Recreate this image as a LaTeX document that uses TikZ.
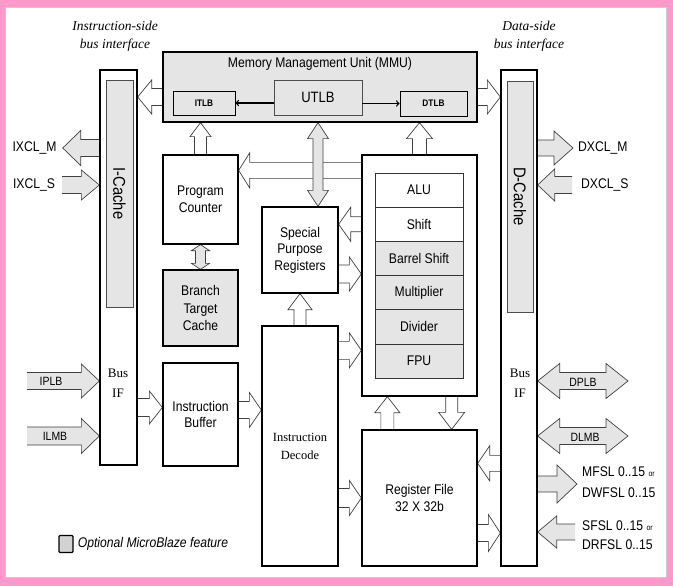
\documentclass[tikz,border=0pt]{standalone}
\usepackage{fontspec}
\setmainfont[FakeStretch=0.87]{Liberation Sans}
\newfontfamily\timesfont{Liberation Serif}
\usetikzlibrary{calc,positioning}
\definecolor{framepink}{RGB}{255,153,204}
\pgfdeclarelayer{frame}
\pgfdeclarelayer{arrows}
\pgfsetlayers{frame,arrows,main}
% block arrows: [style]{tail}{tip}{half shaft}{half head}{head length}
\newcommand{\harr}[6][]{\draw[#1] let \p1=#2, \p2=#3, \n1={sign(\x2-\x1)*#6} in
	(\x1,{\y1+#4}) -- ({\x2-(\n1)},{\y1+#4}) -- ({\x2-(\n1)},{\y1+#5}) -- (\x2,\y1)
	-- ({\x2-(\n1)},{\y1-#5}) -- ({\x2-(\n1)},{\y1-#4}) -- (\x1,{\y1-#4});}
\newcommand{\varr}[6][]{\draw[#1] let \p1=#2, \p2=#3, \n1={sign(\y2-\y1)*#6} in
	({\x1+#4},\y1) -- ({\x1+#4},{\y2-(\n1)}) -- ({\x1+#5},{\y2-(\n1)}) -- (\x1,\y2)
	-- ({\x1-#5},{\y2-(\n1)}) -- ({\x1-#4},{\y2-(\n1)}) -- ({\x1-#4},\y1);}
\newcommand{\hdarr}[6][]{\draw[#1] let \p1=#2, \p2=#3, \n1={sign(\x2-\x1)*#6} in
	(\x1,\y1) -- ({\x1+(\n1)},{\y1+#5}) -- ({\x1+(\n1)},{\y1+#4}) -- ({\x2-(\n1)},{\y1+#4})
	-- ({\x2-(\n1)},{\y1+#5}) -- (\x2,\y1) -- ({\x2-(\n1)},{\y1-#5}) -- ({\x2-(\n1)},{\y1-#4})
	-- ({\x1+(\n1)},{\y1-#4}) -- ({\x1+(\n1)},{\y1-#5}) -- cycle;}
\newcommand{\vdarr}[6][]{\draw[#1] let \p1=#2, \p2=#3, \n1={sign(\y2-\y1)*#6} in
	(\x1,\y1) -- ({\x1+#5},{\y1+(\n1)}) -- ({\x1+#4},{\y1+(\n1)}) -- ({\x1+#4},{\y2-(\n1)})
	-- ({\x1+#5},{\y2-(\n1)}) -- (\x1,\y2) -- ({\x1-#5},{\y2-(\n1)}) -- ({\x1-#4},{\y2-(\n1)})
	-- ({\x1-#4},{\y1+(\n1)}) -- ({\x1-#5},{\y1+(\n1)}) -- cycle;}
\begin{document}
\begin{tikzpicture}[x=1pt,y=-1pt,font=\fontsize{14}{16.5}\selectfont,
	box/.style={draw,fill=white,line width=1.3pt,inner sep=0pt,align=center},
	grey/.style={fill=gray!20},
	unit/.style={draw=black!80,line width=.6pt,minimum width=88pt,minimum height=34.17pt,inner sep=0pt},
	tlb/.style={draw,fill=gray!20,line width=.8pt,inner sep=0pt,font=\bfseries\fontsize{9.5}{10}\selectfont},
	hollow/.style={draw=black!75,fill=white,line width=.7pt},
	greyarr/.style={draw=black!75,fill=gray!20,line width=.7pt},
	lbl/.style={inner sep=0pt},
	small/.style={inner sep=0pt,font=\fontsize{12}{13}\selectfont},
	side/.style={inner sep=0pt,align=center,font=\timesfont\itshape\fontsize{13.5}{18}\selectfont}]
\useasboundingbox (0,0) rectangle (673,586);
\begin{pgfonlayer}{frame}
\fill[framepink] (0,0) rectangle (673,586);
\filldraw[fill=white,draw=black!20] (5,7) rectangle (666,577);
\end{pgfonlayer}
%bus interfaces
\node[side] (itit) at (115,36) {Instruction-side\\bus interface};
\node[side] (dtit) at (529,36) {Data-side\\bus interface};
\node[box,minimum width=37pt,minimum height=395pt] (icol) at (118.5,267.5) {};
\node[draw=black!70,grey,line width=.6pt,rotate=-90,minimum width=227pt,minimum height=27pt,
	font=\fontsize{17}{18}\selectfont] (icache) at (119.5,193.5) {I-Cache};
\node[lbl,align=center,font=\timesfont\fontsize{13}{20}\selectfont] (ibus) at (118,383) {Bus\\IF};
\node[box,minimum width=36pt,minimum height=496pt] (dcol) at (519,318) {};
\node[draw=black!70,grey,line width=.6pt,rotate=-90,minimum width=231pt,minimum height=26pt,
	font=\fontsize{17}{18}\selectfont] (dcache) at (520,196.5) {D-Cache};
\node[lbl,align=center,font=\timesfont\fontsize{13}{20}\selectfont] (dbus) at (520,383) {Bus\\IF};
%MMU
\node[box,grey,minimum width=314pt,minimum height=70pt] (mmu) at (320,87) {};
\node[lbl] (mmulbl) at (320,64) {Memory Management Unit (MMU)};
\node[tlb,minimum width=62pt,minimum height=24pt] (itlb) at (204,103) {ITLB};
\node[draw=black!70,grey,line width=.8pt,minimum width=88pt,minimum height=35pt,
	font=\fontsize{15}{16}\selectfont] (utlb) at (318,97.5) {UTLB};
\node[tlb,minimum width=67pt,minimum height=25pt] (dtlb) at (433.5,103.5) {DTLB};
\draw[->,line width=1.3pt] (utlb.west |- itlb) -- (itlb);
\draw[->,line width=1.3pt] (utlb.east |- dtlb) -- (dtlb);
%core
\node[box,minimum width=75pt,minimum height=89pt] (pc) at (200.5,199.5) {Program\\Counter};
\node[box,grey,minimum width=75pt,minimum height=76pt,font=\fontsize{14}{17.5}\selectfont] (btc) at (200.5,308) {Branch\\Target\\Cache};
\node[box,minimum width=75pt,minimum height=103pt] (ib) at (200.5,414.5) {Instruction\\Buffer};
\node[box,minimum width=76pt,minimum height=86pt] (spr) at (300,250) {Special\\Purpose\\Registers};
\node[box,minimum width=76pt,minimum height=240pt,font=\timesfont\fontsize{12.5}{18}\selectfont] (id) at (300,446) {Instruction\\Decode};
\node[box,minimum width=115pt,minimum height=241pt] (exec) at (419.5,275.5) {};
\foreach \n/\t/\c [count=\i] in {alu/ALU/white,shf/Shift/white,bsh/Barrel Shift/gray!20,
	mul/Multiplier/gray!20,dvd/Divider/gray!20,fpu/FPU/gray!20}
	\node[unit,fill=\c] (\n) at (419,{173+34.17*(\i-0.5)}) {\t};
\node[box,minimum width=115pt,minimum height=136pt] (rf) at (419.5,498) {Register File\\32 X 32b};
%outside labels
\node[lbl] (ixclm) at (34.5,148) {IXCL\_M};
\node[lbl] (ixcls) at (34,185) {IXCL\_S};
\node[small] (iplb) at (51,381) {IPLB};
\node[small] (ilmb) at (55,436) {ILMB};
\coordinate (iplbt) at (27,381);
\coordinate (ilmbt) at (27,436);
\node[lbl,anchor=west] (dxclm) at (578,148) {DXCL\_M};
\node[lbl,anchor=west] (dxcls) at (581,185) {DXCL\_S};
\node[small] (dplb) at (583,382) {DPLB};
\node[small] (dlmb) at (585,437) {DLMB};
\coordinate (dplbt) at (628,381);
\coordinate (dlmbt) at (628,436);
\node[lbl,anchor=west,align=left,font=\fontsize{14}{21}\selectfont] (mfsl) at (582,482)
	{MFSL 0..15 {\fontsize{8}{9}\selectfont or}\\DWFSL 0..15};
\node[lbl,anchor=west,align=left,font=\fontsize{14}{19}\selectfont] (sfsl) at (582,535)
	{SFSL 0..15 {\fontsize{8}{9}\selectfont or}\\DRFSL 0..15};
%legend
\node[draw,line width=1.2pt,fill=gray!35,rounded corners=1pt,minimum width=14pt,minimum height=17pt,inner sep=0pt] (legsq) at (66,544) {};
\node[lbl,right=4pt of legsq,font=\itshape\fontsize{14}{16}\selectfont] (legtxt) {Optional MicroBlaze feature};
\begin{pgfonlayer}{arrows}
\harr[hollow]{([yshift=-10pt]mmu.west)}{(icol.east)}{8.5pt}{17pt}{14pt}
\harr[hollow]{([yshift=-10pt]mmu.east)}{(dcol.west)}{8.5pt}{17pt}{13pt}
\varr[hollow]{(pc.north)}{(mmu.south)}{6pt}{10.5pt}{14pt}
\varr[hollow]{(exec.north)}{(mmu.south)}{7pt}{13pt}{16pt}
\harr[hollow]{([yshift=-16pt]exec.north west)}{(pc.east)}{8pt}{17.5pt}{11pt}
\vdarr[greyarr]{(utlb |- mmu.south)}{(spr.north)}{5pt}{10.5pt}{16pt}
\vdarr[greyarr]{(pc.south)}{(btc.north)}{5pt}{9pt}{6pt}
\harr[hollow]{(exec.west |- shf)}{(spr.east)}{7.5pt}{17pt}{12pt}
\harr[hollow]{([yshift=-24pt]spr.east)}{(exec.west)}{9pt}{17pt}{12pt}
\varr[hollow]{(id.north)}{(spr.south)}{6pt}{12pt}{16pt}
\harr[hollow]{([yshift=-25pt]id.north east)}{(exec.west)}{9pt}{17.5pt}{12pt}
\harr[hollow]{($(icol.east |- ib.west)+(0,-7)$)}{(ib.west)}{9pt}{16.5pt}{13pt}
\harr[hollow]{($(ib.east)+(0,-4.5)$)}{(id.west)}{8.5pt}{17.5pt}{12pt}
\varr[hollow]{($(rf.north west)+(26,0)$)}{(exec.south)}{6.5pt}{12.5pt}{16pt}
\varr[hollow]{($(exec.south east)+(-26,0)$)}{(rf.north)}{6pt}{13pt}{17pt}
\harr[hollow]{(id.east |- rf)}{(rf.west)}{9.5pt}{17.5pt}{12pt}
\harr[hollow]{($(dcol.west |- rf.north)+(0,34)$)}{(rf.east)}{8pt}{17.5pt}{12pt}
\harr[hollow]{($(rf.east)+(0,35)$)}{(dcol.west)}{8.5pt}{18.5pt}{12pt}
%grey bus arrows
\harr[greyarr]{(icol.west |- ixclm)}{([xshift=6pt]ixclm.east)}{8.5pt}{17.5pt}{18pt}
\harr[greyarr]{([xshift=7pt]ixcls.east)}{(icol.west)}{8.5pt}{15pt}{18pt}
\harr[greyarr]{(iplbt)}{(icol.west)}{8.5pt}{17pt}{18pt}
\harr[greyarr]{(ilmbt)}{(icol.west)}{9pt}{17.5pt}{18pt}
\harr[greyarr]{(dcol.east |- dxclm)}{([xshift=-5pt]dxclm.west)}{8pt}{17pt}{19pt}
\harr[greyarr]{([xshift=-9pt]dxcls.west)}{(dcol.east)}{8.5pt}{16pt}{17pt}
\hdarr[greyarr]{(dcol.east |- dplbt)}{(dplbt)}{8.5pt}{17.5pt}{22pt}
\hdarr[greyarr]{(dcol.east |- dlmbt)}{(dlmbt)}{8.5pt}{17.5pt}{22pt}
\harr[greyarr]{($(dcol.east |- mfsl)+(0,2)$)}{([xshift=-5pt]mfsl.west)}{8pt}{19pt}{20pt}
\harr[greyarr]{($([xshift=-7pt]sfsl.west)+(0,-3)$)}{(dcol.east)}{8pt}{16pt}{19pt}
\end{pgfonlayer}
\end{tikzpicture}
\end{document}
